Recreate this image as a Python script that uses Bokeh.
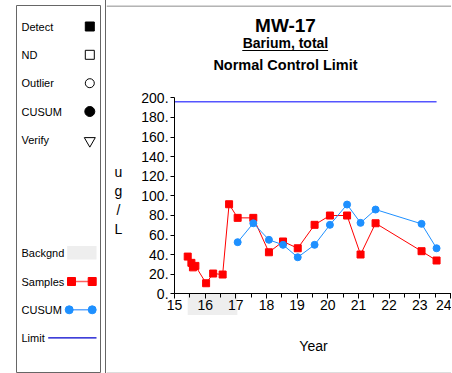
from bokeh.plotting import figure
from bokeh.layouts import row
from bokeh.models import Range1d, FixedTicker, SingleIntervalTicker, PrintfTickFormatter, Label, Span
from bokeh.core.properties import value
from bokeh.embed import file_html
from bokeh.resources import INLINE

FONT = "Liberation Sans"

# ---- data ----
sample_dates = [15.43, 15.55, 15.60, 15.68, 16.03, 16.26, 16.57, 16.78, 17.06, 17.57,
                18.08, 18.54, 19.02, 19.57, 20.07, 20.63, 21.07, 21.56, 23.06, 23.55]
sample_values = [38.0, 31.6, 27.0, 28.5, 10.8, 20.7, 19.7, 91.4, 77.5, 77.5,
                 42.4, 53.4, 46.5, 70.4, 79.9, 79.9, 40.1, 72.0, 43.5, 34.0]
cusum_dates = sample_dates[8:]
cusum_values = [52.7, 72.0, 55.1, 50.0, 37.3, 50.0, 70.4, 91.1, 72.4, 86.0, 71.4, 46.5]
limit_value = 196.0
limit_dates = [15.0, 23.55]
background_period = [15.43, 17.05]
y_ticks = [0, 20, 40, 60, 80, 100, 120, 140, 160, 180, 200]
x_start, x_end = 15, 24.07

title_main = "MW-17"
title_sub = "Barium, total"
title_third = "Normal Control Limit"
y_label = "u\ng\n/\nL"
x_label = "Year"

legend_symbols = ["Detect", "ND", "Outlier", "CUSUM", "Verify"]
legend_lines = ["Backgnd", "Samples", "CUSUM", "Limit"]

# ---- legend panel ----
leg = figure(title=None, width=105, height=373, x_range=Range1d(0, 84), y_range=Range1d(368, 0),
             min_border=0, min_border_left=16, min_border_right=5, min_border_top=5, min_border_bottom=0,
             x_axis_location=None, y_axis_location=None,
             outline_line_color="#666666", outline_line_width=1,
             toolbar_location=None, output_backend="svg")
leg.grid.visible = False

sym_y = [21, 49.3, 77.7, 106, 134.3]
leg.text(x=[5] * 5, y=sym_y, text=legend_symbols, text_font=value(FONT),
         text_font_size="11px", text_baseline="middle", text_color="black")
mx = 73.3
leg.scatter([mx], [sym_y[0]], marker="square", size=9, color="black")
leg.scatter([mx], [sym_y[1]], marker="square", size=9, fill_color="white", line_color="black", line_width=1)
leg.scatter([mx], [sym_y[2]], marker="circle", size=9, fill_color="white", line_color="black", line_width=1)
leg.scatter([mx], [sym_y[3]], marker="circle", size=10, color="black")
leg.scatter([mx], [sym_y[4] + 1], marker="inverted_triangle", size=11, fill_color="white", line_color="black", line_width=1)

line_y = [247.3, 276, 304.3, 332.3]
leg.text(x=[5] * 4, y=line_y, text=legend_lines, text_font=value(FONT),
         text_font_size="11px", text_baseline="middle", text_color="black")
leg.quad(left=[50.7], right=[80], top=[line_y[0] - 6.7], bottom=[line_y[0] + 6.7],
         fill_color="#eeeeee", line_color=None)
leg.line([55, 75.7], [line_y[1]] * 2, color="#ff6060", line_width=1.5)
leg.scatter([55, 75.7], [line_y[1]] * 2, marker="square", size=8, color="#ff0000")
leg.line([52.7, 75.7], [line_y[2]] * 2, color="#60a8ff", line_width=1.5)
leg.scatter([52.7, 75.7], [line_y[2]] * 2, marker="circle", size=8, color="#1e90ff")
leg.line([31.7, 80], [line_y[3]] * 2, color="#0000cc", line_width=1.2)

# ---- main chart ----
p = figure(title=None, width=346, height=373, x_range=Range1d(12.78, x_end), y_range=Range1d(-81.3, 294.2),
           min_border=0, min_border_left=0, min_border_right=0, min_border_top=0, min_border_bottom=0,
           outline_line_color=None, toolbar_location=None, output_backend="svg",
           styles={"border-left": "1px solid #666666"})
p.grid.visible = False

# panel frame lines (top dark, bottom light)
p.add_layout(Span(location=293.7, dimension="width", line_color="#666666", line_width=1))
p.add_layout(Span(location=-80.3, dimension="width", line_color="#dddddd", line_width=1))

p.quad(left=[background_period[0]], right=[background_period[1]], top=[0], bottom=[-21.5],
       fill_color="#eeeeee", line_color=None)
p.line(limit_dates, [limit_value] * 2, color="#5555ff", line_width=1.5)
p.line(sample_dates, sample_values, color="#ff0000", line_width=1)
p.scatter(sample_dates, sample_values, marker="square", size=7, color="#ff0000")
p.line(cusum_dates, cusum_values, color="#1e90ff", line_width=1)
p.scatter(cusum_dates, cusum_values, marker="circle", size=7, color="#1e90ff")

xa = p.xaxis[0]
xa.fixed_location = 0
xa.bounds = (x_start, x_end)
xa.ticker = SingleIntervalTicker(interval=1, num_minor_ticks=2)
xa.major_tick_out = 5
xa.major_tick_in = 0
xa.minor_tick_out = 4
xa.minor_tick_in = 0
xa.major_label_standoff = 1
xa.major_label_text_font = FONT
xa.major_label_text_font_size = "14px"
xa.major_label_text_color = "black"
xa.axis_line_color = "black"
xa.axis_label = x_label
xa.axis_label_text_font = FONT
xa.axis_label_text_font_size = "14px"
xa.axis_label_text_font_style = "normal"
xa.axis_label_text_color = "black"
xa.axis_label_standoff = 25

ya = p.yaxis[0]
ya.fixed_location = x_start
ya.bounds = (0, 200)
ya.ticker = FixedTicker(ticks=y_ticks)
ya.formatter = PrintfTickFormatter(format="%d.")
ya.major_tick_out = 4
ya.major_tick_in = 0
ya.minor_tick_out = 0
ya.minor_tick_in = 0
ya.major_label_standoff = 2
ya.major_label_text_font = FONT
ya.major_label_text_font_size = "14px"
ya.major_label_text_color = "black"
ya.axis_line_color = "black"

p.add_layout(Label(x=13.17, y=95.2, text=y_label, text_font=FONT, text_font_size="14px",
                   text_color="black", text_align="center", text_baseline="middle"))

tx = 18.62
p.add_layout(Label(x=tx, y=273.8, text=title_main, text_font=FONT, text_font_size="19px",
                   text_font_style="bold", text_color="black", text_align="center", text_baseline="middle"))
p.add_layout(Label(x=tx, y=256.4, text=title_sub, text_font=FONT, text_font_size="14px",
                   text_font_style="bold", text_color="black", text_align="center", text_baseline="middle"))
p.segment(x0=[17.21], y0=[248.3], x1=[20.01], y1=[248.3], line_color="black", line_width=1.2)
p.add_layout(Label(x=tx, y=233.3, text=title_third, text_font=FONT, text_font_size="14.5px",
                   text_font_style="bold", text_color="black", text_align="center", text_baseline="middle"))

layout = row(leg, p)
open("out.html", "w").write(file_html(layout, INLINE))
